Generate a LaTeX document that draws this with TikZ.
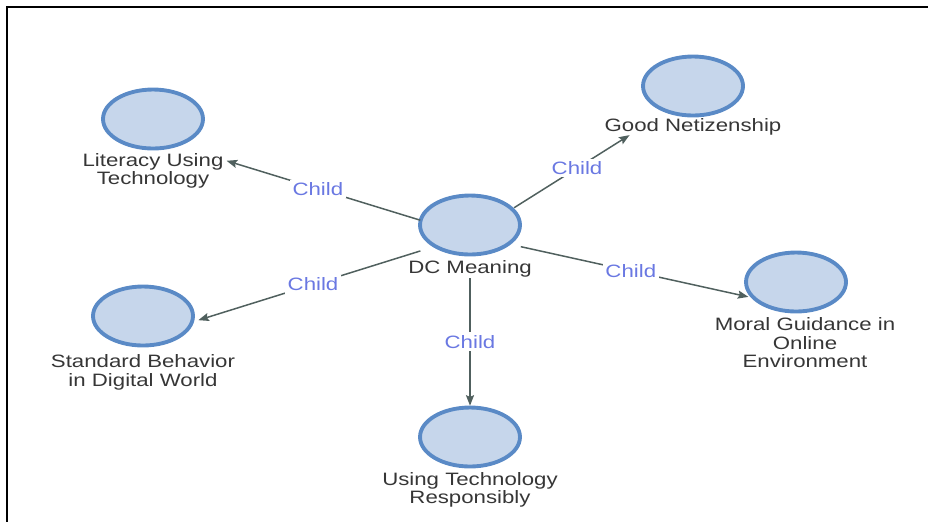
\documentclass[tikz,border=0pt]{standalone}
\usepackage{fontspec}
\usepackage{tikz}
\usetikzlibrary{arrows.meta,positioning,fit,shapes.geometric}
\newfontfamily\mapfont[FakeStretch=1.24]{Liberation Sans}
\definecolor{bubble}{HTML}{C6D6EB}
\definecolor{bubbleline}{HTML}{5A8AC6}
\definecolor{inktext}{HTML}{363636}
\definecolor{linkgray}{HTML}{50605E}
\definecolor{childblue}{HTML}{6A78E2}

\begin{document}
\begin{tikzpicture}[
  x=0.02cm, y=-0.02cm,
  every node/.style={font=\mapfont\fontsize{10.2}{10.5}\selectfont},
  concept/.style={ellipse, draw=bubbleline, line width=2.2pt, fill=bubble,
                  minimum width=2.0cm, minimum height=1.18cm},
  caption/.style={text=inktext, align=center, inner sep=0pt},
  group/.style={inner sep=0pt},
  link/.style={-{Stealth[length=6pt,width=4.6pt,inset=1pt]}, line width=0.85pt,
               draw=linkgray, shorten <=1.04cm},
  tag/.style={text=childblue, fill=white, inner sep=1.5pt, pos=0.48}
]
  \useasboundingbox (0,0) rectangle (928,522);
  \draw[line width=1.6pt] (928,7) -- (7,7) -- (7,522);

  \node[concept] (dc) at (470,225) {};
  \node[caption, below=0.07cm of dc] (dctxt) {DC Meaning};

  \node[concept] (lit) at (153,119) {};
  \node[caption, below=0.05cm of lit] (littxt) {Literacy Using\\Technology};

  \node[concept] (good) at (693,86) {};
  \node[caption, below=0.02cm of good] (goodtxt) {Good Netizenship};

  \node[concept] (std) at (143,316) {};
  \node[caption, below=0.14cm of std] (stdtxt) {Standard Behavior\\in Digital World};

  \node[concept] (using) at (470,437) {};
  \node[caption, below=0.07cm of using] (usingtxt) {Using Technology\\Responsibly};

  \node[concept] (moral) at (796,282) {};
  \node[caption, below=0.08cm of moral, xshift=0.18cm] (moraltxt) {Moral Guidance in\\Online\\Environment};

  % circle plus caption, so the links aim at the whole entry
  \node[group, fit=(dc)(dctxt)] (dcgrp) {};
  \node[group, fit=(lit)(littxt)] (litgrp) {};
  \node[group, fit=(good)(goodtxt)] (goodgrp) {};
  \node[group, fit=(std)(stdtxt)] (stdgrp) {};
  \node[group, fit=(using)(usingtxt)] (usinggrp) {};
  \node[group, fit=(moral)(moraltxt)] (moralgrp) {};

  \draw[link, shorten >=1.54cm] (dcgrp.center) -- node[tag] {Child} (litgrp.center);
  \draw[link, shorten >=1.5cm] (dcgrp.center) -- node[tag] {Child} (goodgrp.center);
  \draw[link, shorten >=1.16cm] (dcgrp.center) -- node[tag] {Child} (stdgrp.center);
  \draw[link, shorten <=0.86cm, shorten >=1.02cm] (dcgrp.center) -- node[tag] {Child} (usinggrp.center);
  \draw[link, shorten >=1.16cm] (dcgrp.center) -- node[tag] {Child} (moralgrp.center);
\end{tikzpicture}
\end{document}
